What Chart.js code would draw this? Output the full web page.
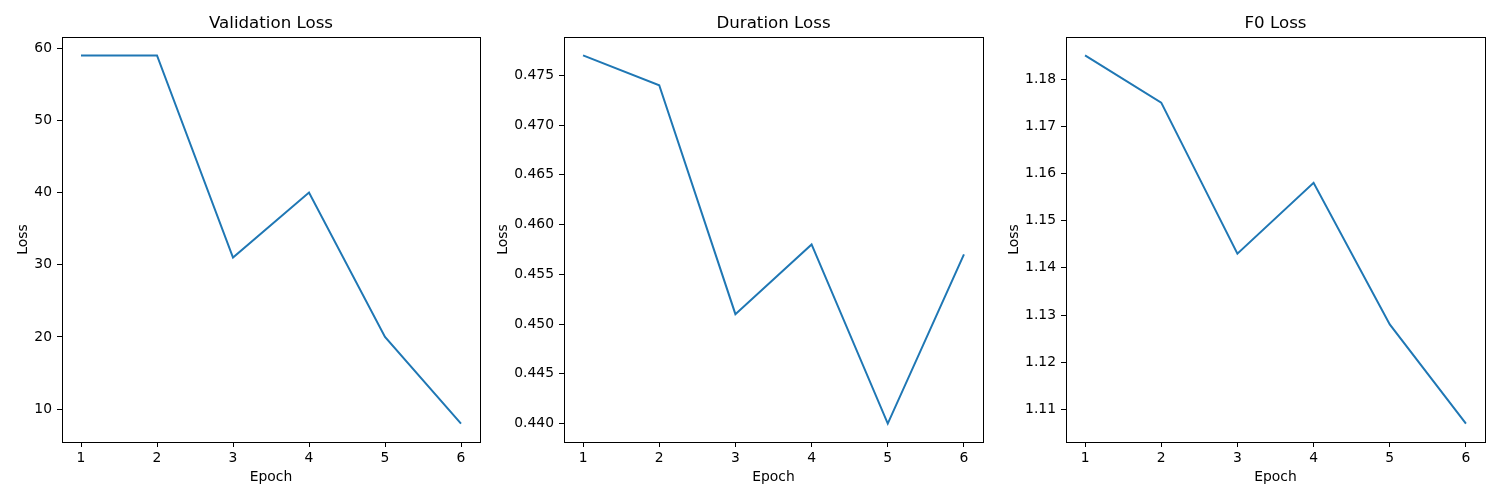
<!DOCTYPE html>
<html>
<head>
<meta charset="utf-8">
<script src="https://cdn.jsdelivr.net/npm/chart.js@4.4.1/dist/chart.umd.min.js"></script>
<style>
  body { margin: 0; width: 1500px; height: 500px; overflow: hidden; background: #fff; position: relative; }
  .panel { position: absolute; top: 0; height: 500px; }
</style>
</head>
<body>
<div class="panel" id="p1" style="left:0px;width:500px"><canvas id="chart1" width="500" height="500"></canvas></div>
<div class="panel" id="p2" style="left:494px;width:506px"><canvas id="chart2" width="506" height="500"></canvas></div>
<div class="panel" id="p3" style="left:1000px;width:500px"><canvas id="chart3" width="500" height="500"></canvas></div>
<script>
// data
const epochs = [1, 2, 3, 4, 5, 6];
const validationLoss = [59, 59, 31, 40, 20, 8];
const durationLoss = [0.477, 0.474, 0.451, 0.458, 0.440, 0.457];
const f0Loss = [1.185, 1.175, 1.143, 1.158, 1.128, 1.107];

// tick labels
const epochTicks = ['1', '2', '3', '4', '5', '6'];
const validationTicks = ['10', '20', '30', '40', '50', '60'];
const durationTicks = ['0.440', '0.445', '0.450', '0.455', '0.460', '0.465', '0.470', '0.475'];
const f0Ticks = ['1.11', '1.12', '1.13', '1.14', '1.15', '1.16', '1.17', '1.18'];

const FONT = 'DejaVu Sans';

// frame around plot area (matplotlib spines)
const framePlugin = {
     id: 'frame',
     afterDraw(chart) {
          const a = chart.chartArea;
          const ctx = chart.ctx;
          ctx.save();
          ctx.strokeStyle = '#000';
          ctx.lineWidth = 1;
          ctx.strokeRect(Math.round(a.left) + 0.5, Math.round(a.top) + 0.5,
               Math.round(a.right - a.left), Math.round(a.bottom - a.top));
          ctx.restore();
     }
};

function makeChart(canvasId, title, values, yTicks, layout) {
     const lo = Math.min(...values), hi = Math.max(...values);
     const m = (hi - lo) * 0.05; // matplotlib default margin

     return new Chart(document.getElementById(canvasId), {
          type: 'line',
          data: {
               datasets: [{
                    data: epochs.map((e, i) => ({ x: e, y: values[i] })),
                    borderColor: '#1f77b4',
                    borderWidth: 2,
                    pointRadius: 0,
                    fill: false,
                    tension: 0
               }]
          },
          options: {
               responsive: false,
               animation: false,
               layout: { padding: { left: 0, right: layout.right, top: 0, bottom: 0 } },
               plugins: {
                    legend: { display: false },
                    tooltip: { enabled: false },
                    title: {
                         display: true,
                         text: title,
                         color: '#000',
                         fullSize: false,
                         font: { family: FONT, size: 16.67, weight: 'normal', lineHeight: 1.2 },
                         padding: { top: 13.6, bottom: 3.4 }
                    }
               },
               scales: {
                    x: {
                         type: 'linear',
                         min: 0.75,
                         max: 6.25,
                         afterBuildTicks: s => { s.ticks = epochTicks.map(t => ({ value: parseFloat(t) })); },
                         afterFit: s => { s.height = 58; },
                         ticks: {
                              color: '#000',
                              padding: 3,
                              maxRotation: 0,
                              font: { family: FONT, size: 13.89 },
                              callback: (v, i) => epochTicks[i]
                         },
                         grid: { drawOnChartArea: false, drawTicks: true, tickLength: 5, color: '#000' },
                         border: { display: false },
                         title: {
                              display: true,
                              text: 'Epoch',
                              color: '#000',
                              font: { family: FONT, size: 13.89 },
                              padding: { top: 0, bottom: 13.8 }
                         }
                    },
                    y: {
                         type: 'linear',
                         min: lo - m,
                         max: hi + m,
                         afterBuildTicks: s => { s.ticks = yTicks.map(t => ({ value: parseFloat(t) })); },
                         afterFit: s => { s.width = layout.axisWidth; },
                         ticks: {
                              color: '#000',
                              padding: 5,
                              font: { family: FONT, size: 13.89 },
                              callback: (v, i) => yTicks[i]
                         },
                         grid: { drawOnChartArea: false, drawTicks: true, tickLength: 5, color: '#000' },
                         border: { display: false },
                         title: {
                              display: true,
                              text: 'Loss',
                              color: '#000',
                              font: { family: FONT, size: 13.89 },
                              padding: { top: layout.titlePad, bottom: 0 }
                         }
                    }
               }
          },
          plugins: [framePlugin]
     });
}

makeChart('chart1', 'Validation Loss', validationLoss, validationTicks, { axisWidth: 62, right: 20, titlePad: 14.6 });
makeChart('chart2', 'Duration Loss', durationLoss, durationTicks, { axisWidth: 70, right: 17, titlePad: 0.6 });
makeChart('chart3', 'F0 Loss', f0Loss, f0Ticks, { axisWidth: 66, right: 15, titlePad: 5.6 });
</script>
</body>
</html>
